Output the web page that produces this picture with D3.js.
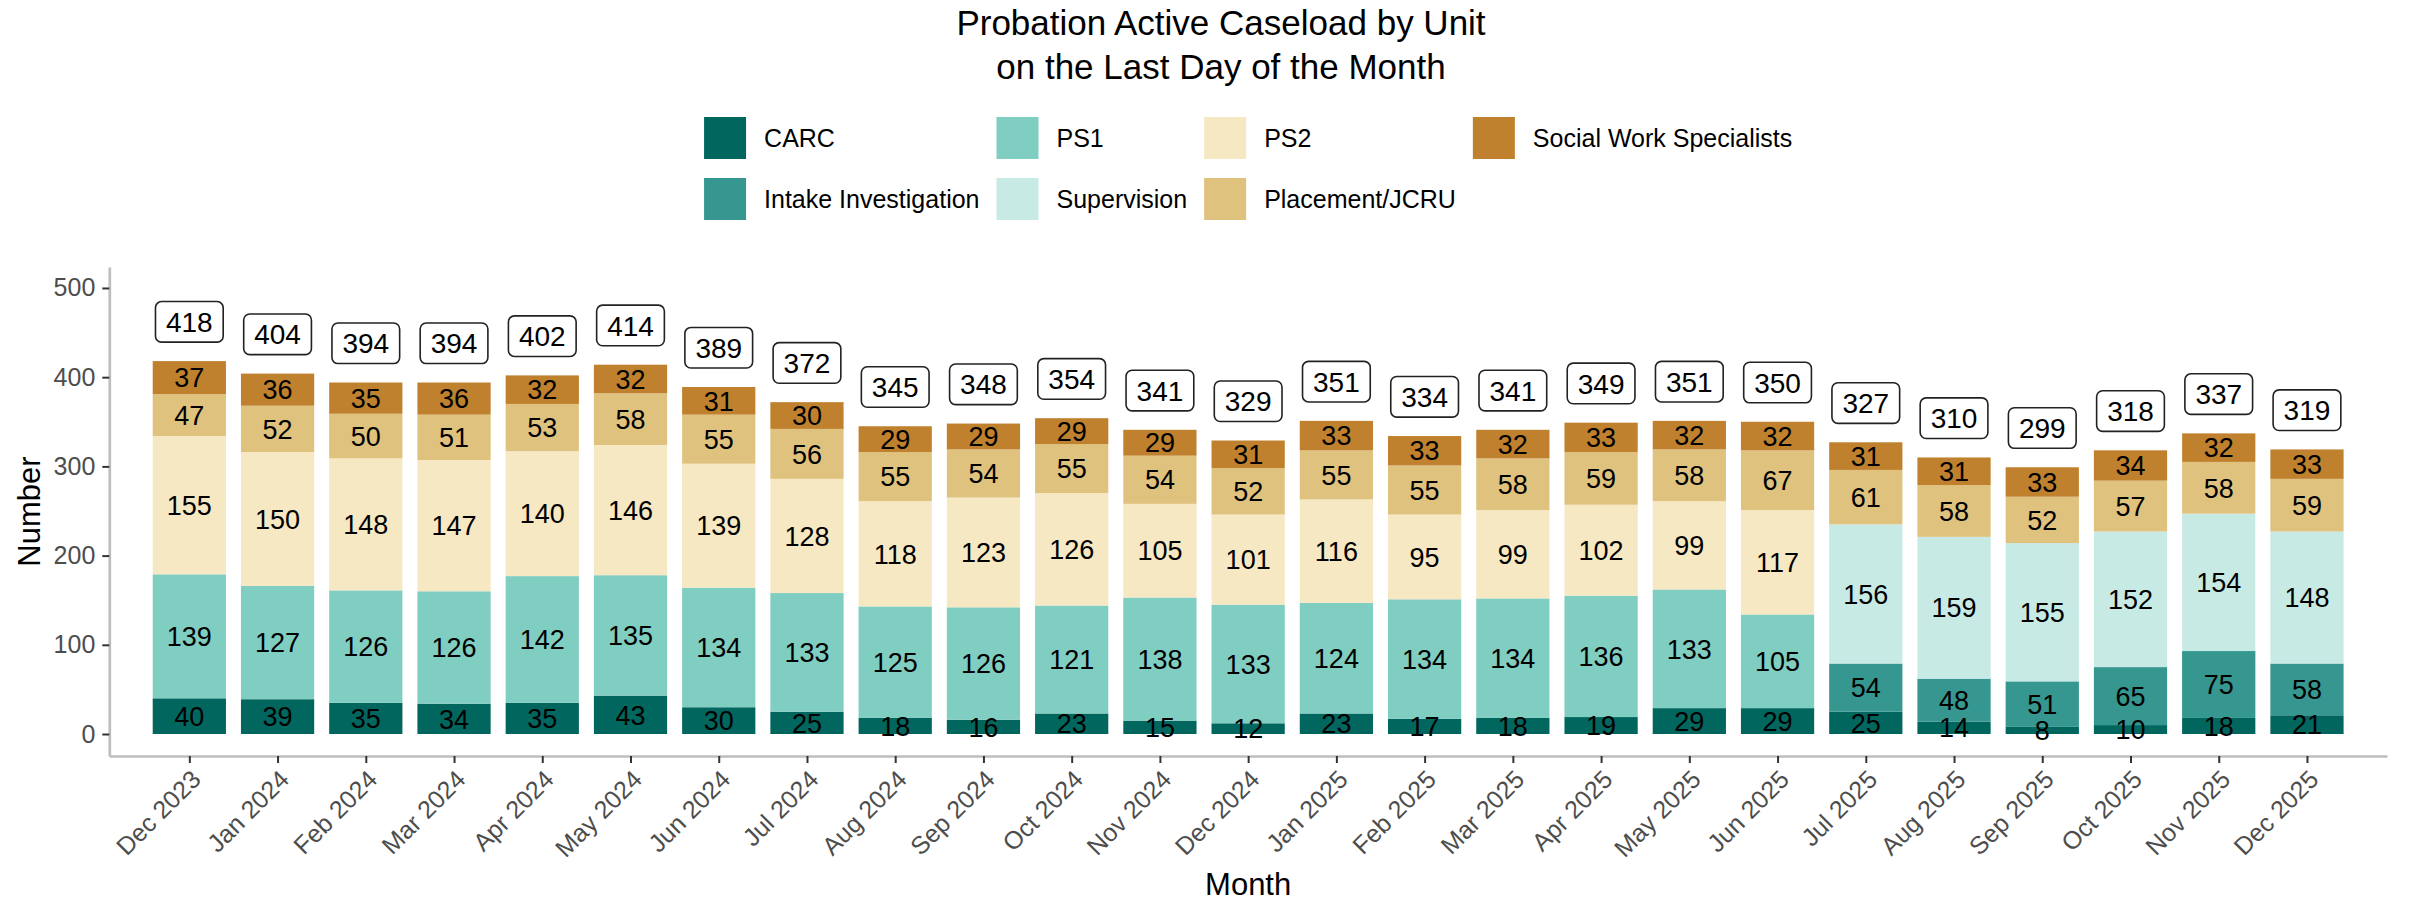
<!DOCTYPE html>
<meta charset="utf-8">
<head>
    <title>Probation Active Caseload</title>
    <style>
        body { margin: 0; background: #ffffff; }
        svg { font-family: "Liberation Sans", Arial, sans-serif; display: block; }
        .axis .domain { stroke: #bebebe; stroke-width: 2.7px; }
        .axis line { stroke: #333333; stroke-width: 2px; }
        .axis text { fill: #4d4d4d; font-size: 25px; font-family: "Liberation Sans", Arial, sans-serif; }
        .seg-label { font-size: 27px; fill: #000; text-anchor: middle; }
        .total-label { font-size: 28px; fill: #000; text-anchor: middle; }
    </style>
</head>
<body>
<svg width="2409" height="901"></svg>
<script src="https://d3js.org/d3.v7.min.js"></script>
<script>
    // data
    var months = ["Dec 2023", "Jan 2024", "Feb 2024", "Mar 2024", "Apr 2024", "May 2024", "Jun 2024",
        "Jul 2024", "Aug 2024", "Sep 2024", "Oct 2024", "Nov 2024", "Dec 2024", "Jan 2025", "Feb 2025",
        "Mar 2025", "Apr 2025", "May 2025", "Jun 2025", "Jul 2025", "Aug 2025", "Sep 2025", "Oct 2025",
        "Nov 2025", "Dec 2025"];
    var carc       = [40, 39, 35, 34, 35, 43, 30, 25, 18, 16, 23, 15, 12, 23, 17, 18, 19, 29, 29, 25, 14, 8, 10, 18, 21];
    var intake     = [0, 0, 0, 0, 0, 0, 0, 0, 0, 0, 0, 0, 0, 0, 0, 0, 0, 0, 0, 54, 48, 51, 65, 75, 58];
    var ps1        = [139, 127, 126, 126, 142, 135, 134, 133, 125, 126, 121, 138, 133, 124, 134, 134, 136, 133, 105, 0, 0, 0, 0, 0, 0];
    var supervision= [0, 0, 0, 0, 0, 0, 0, 0, 0, 0, 0, 0, 0, 0, 0, 0, 0, 0, 0, 156, 159, 155, 152, 154, 148];
    var ps2        = [155, 150, 148, 147, 140, 146, 139, 128, 118, 123, 126, 105, 101, 116, 95, 99, 102, 99, 117, 0, 0, 0, 0, 0, 0];
    var placement  = [47, 52, 50, 51, 53, 58, 55, 56, 55, 54, 55, 54, 52, 55, 55, 58, 59, 58, 67, 61, 58, 52, 57, 58, 59];
    var sws        = [37, 36, 35, 36, 32, 32, 31, 30, 29, 29, 29, 29, 31, 33, 33, 32, 33, 32, 32, 31, 31, 33, 34, 32, 33];

    var units = ["CARC", "Intake Investigation", "PS1", "Supervision", "PS2", "Placement/JCRU", "Social Work Specialists"];
    var unitValues = [carc, intake, ps1, supervision, ps2, placement, sws];
    var colors = ["#01665e", "#35978f", "#80cdc1", "#c7eae5", "#f6e8c3", "#dfc27d", "#bf812d"];
    var yTicks = [0, 100, 200, 300, 400, 500];

    var svg = d3.select("svg"),
        panel = {left: 109.3, right: 2387, top: 267, bottom: 756};

    var rows = months.map(function(m, i) {
        var r = {month: m};
        units.forEach(function(u, k) { r[u] = unitValues[k][i]; });
        return r;
    });

    var series = d3.stack().keys(units)(rows);

    var x = d3.scalePoint().domain(months).range([panel.left, panel.right]).padding(0.907);
    var y = d3.scaleLinear().domain([-24.66, 523.5]).range([panel.bottom, panel.top]);
    var color = d3.scaleOrdinal().domain(units).range(colors);
    var barW = x.step() * 0.83;

    // axes
    svg.append("g")
        .attr("class", "axis")
        .attr("transform", "translate(" + panel.left + ",0)")
        .call(d3.axisLeft(y).tickValues(yTicks).tickSize(7).tickSizeOuter(0).tickPadding(7));

    var xAxis = svg.append("g")
        .attr("class", "axis")
        .attr("transform", "translate(0," + panel.bottom + ")")
        .call(d3.axisBottom(x).tickSize(7).tickSizeOuter(0));
    xAxis.selectAll("text")
        .attr("x", 0).attr("y", 0).attr("dy", null)
        .attr("text-anchor", "end")
        .attr("transform", "translate(12.5,25) rotate(-45)");

    // bars
    svg.selectAll(".layer")
        .data(series)
        .enter().append("g")
        .attr("class", "layer")
        .attr("fill", function(d) { return color(d.key); })
        .selectAll("rect")
        .data(function(d) { return d.filter(function(p) { return p[1] - p[0] > 0; }); })
        .enter().append("rect")
        .attr("x", function(d) { return x(d.data.month) - barW / 2; })
        .attr("width", barW)
        .attr("y", function(d) { return y(d[1]); })
        .attr("height", function(d) { return y(d[0]) - y(d[1]); });

    // segment labels, drawn after all bars so none get covered
    svg.append("g").selectAll("g")
        .data(series)
        .enter().append("g")
        .selectAll("text")
        .data(function(d) { return d.filter(function(p) { return p[1] - p[0] > 0; }); })
        .enter().append("text")
        .attr("class", "seg-label")
        .attr("x", function(d) { return x(d.data.month); })
        .attr("y", function(d) { return y((d[0] + d[1]) / 2); })
        .attr("dy", "0.36em")
        .text(function(d) { return d[1] - d[0]; });

    // total labels in rounded boxes
    var totals = months.map(function(m, i) {
        return {month: m, total: d3.sum(unitValues, function(v) { return v[i]; })};
    });

    var tl = svg.selectAll(".total")
        .data(totals)
        .enter().append("g")
        .attr("class", "total")
        .attr("transform", function(d) { return "translate(" + x(d.month) + "," + y(d.total + 44) + ")"; });
    tl.append("rect");
    tl.append("text")
        .attr("class", "total-label")
        .attr("dy", "0.36em")
        .text(function(d) { return d.total; });
    tl.each(function() {
        var g = d3.select(this),
            w = g.select("text").node().getComputedTextLength() + 21;
        g.select("rect")
            .attr("x", -w / 2).attr("y", -20.3)
            .attr("width", w).attr("height", 40.6)
            .attr("rx", 6)
            .attr("fill", "#fff").attr("stroke", "#222").attr("stroke-width", 1.6);
    });

    // axis titles
    svg.append("text")
        .attr("x", (panel.left + panel.right) / 2).attr("y", 895)
        .attr("text-anchor", "middle")
        .style("font-size", "31px")
        .text("Month");
    svg.append("text")
        .attr("transform", "translate(39.5," + (panel.top + panel.bottom) / 2 + ") rotate(-90)")
        .attr("text-anchor", "middle")
        .style("font-size", "31px")
        .text("Number");

    // title
    var title = svg.append("text")
        .attr("text-anchor", "middle")
        .style("font-size", "35px");
    title.append("tspan").attr("x", 1221).attr("y", 35).text("Probation Active Caseload by Unit");
    title.append("tspan").attr("x", 1221).attr("y", 79).text("on the Last Day of the Month");

    // legend: 2 rows, filled by column
    var legend = svg.append("g");
    var keySize = 42, rowGap = 61, colX = 0;
    var cols = [[0, 1], [2, 3], [4, 5], [6]];
    cols.forEach(function(col) {
        var maxW = 0;
        col.forEach(function(k, r) {
            var item = legend.append("g").attr("transform", "translate(" + colX + "," + (r * rowGap) + ")");
            item.append("rect").attr("width", keySize).attr("height", keySize).attr("fill", colors[k]);
            var t = item.append("text")
                .attr("x", keySize + 18).attr("y", keySize / 2).attr("dy", "0.36em")
                .style("font-size", "25px")
                .text(units[k]);
            maxW = Math.max(maxW, t.node().getComputedTextLength());
        });
        colX += keySize + 18 + maxW + 17;
    });
    var legW = colX - 17;
    legend.attr("transform", "translate(" + ((panel.left + panel.right) / 2 - legW / 2) + ",117)");
</script>
</body>
